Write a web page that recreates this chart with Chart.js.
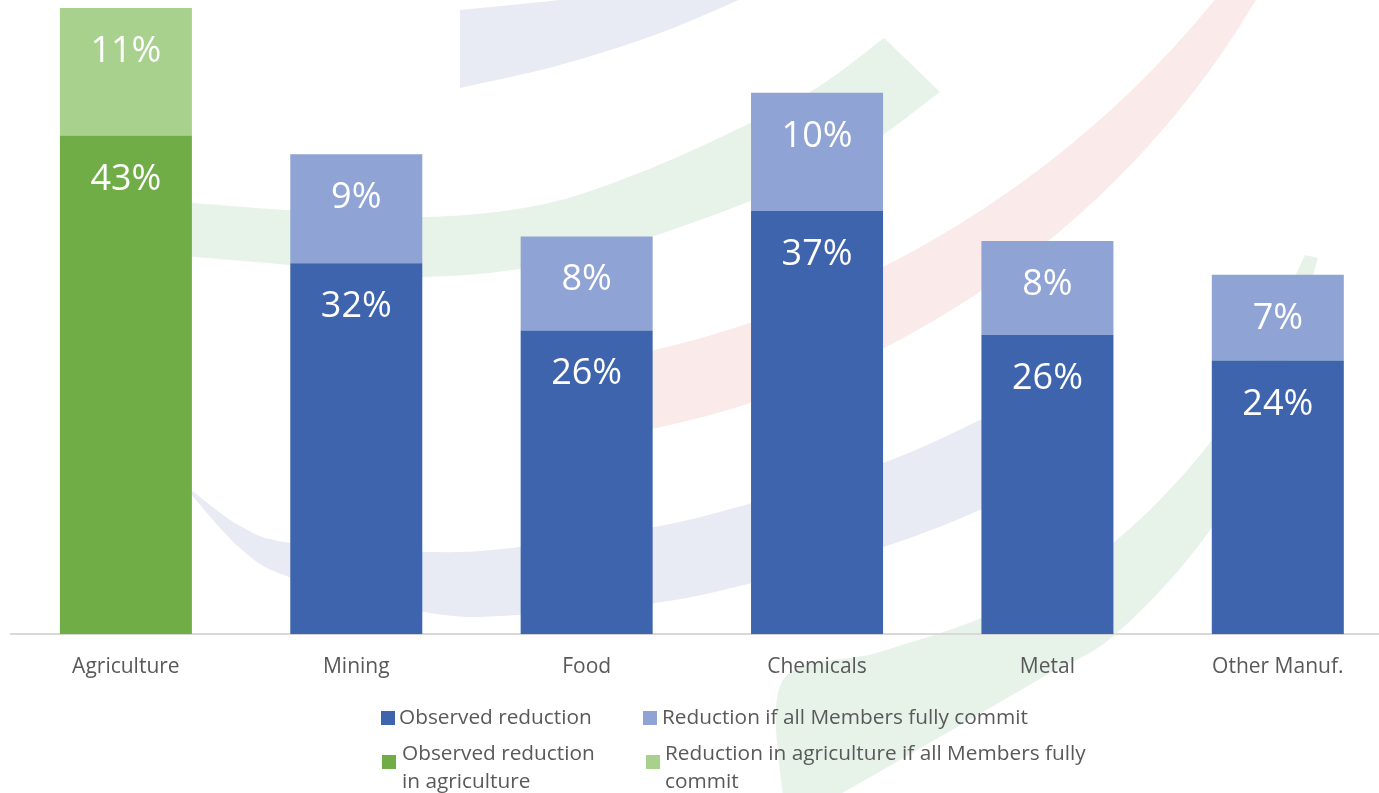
<!DOCTYPE html>
<html><head><meta charset="utf-8">
<script src="https://cdn.jsdelivr.net/npm/chart.js@4"></script>
<style>
html,body{margin:0;padding:0;background:#fff;overflow:hidden;width:1379px;height:793px;}
#wrap{position:relative;width:1379px;height:793px;overflow:hidden;}
#c{position:absolute;left:0;top:0;}
.lg{position:absolute;font-family:"Open Sans";font-size:20.8px;line-height:28px;color:#595959;white-space:nowrap;}
.sw{position:absolute;width:14px;height:14px;}
</style></head><body>
<div id="wrap"><canvas id="c" width="1400" height="793"></canvas><div id="legend"></div></div>
<script>
// ---- data ----
const categories = ["Agriculture", "Mining", "Food", "Chemicals", "Metal", "Other Manuf."];
const observedReduction = [null, 32.0, 26.2, 36.5, 25.8, 23.6];
const fullCommitReduction = [null, 9.4, 8.1, 10.2, 8.1, 7.4];
const observedAgri = [43.0, null, null, null, null, null];
const fullCommitAgri = [11.0, null, null, null, null, null];
const seriesNames = [
  "Observed reduction",
  "Reduction if all Members fully commit",
  "Observed reduction in agriculture",
  "Reduction in agriculture if all Members fully commit"
];
const legendLines = [
  ["Observed reduction"],
  ["Reduction if all Members fully commit"],
  ["Observed reduction", "in agriculture"],
  ["Reduction in agriculture if all Members fully", "commit"]
];
const seriesColors = ["#3D64AD", "#8FA3D4", "#70AD47", "#A9D18E"];
const yMax = 54;

// ---- background watermark (decorative) ----
function smooth(ctx, pts, first) {
  if (first) ctx.moveTo(pts[0][0], pts[0][1]); else ctx.lineTo(pts[0][0], pts[0][1]);
  for (let i = 0; i < pts.length - 1; i++) {
    const p0 = pts[i - 1] || pts[i], p1 = pts[i], p2 = pts[i + 1], p3 = pts[i + 2] || p2;
    ctx.bezierCurveTo(p1[0] + (p2[0] - p0[0]) / 6, p1[1] + (p2[1] - p0[1]) / 6,
                      p2[0] - (p3[0] - p1[0]) / 6, p2[1] - (p3[1] - p1[1]) / 6, p2[0], p2[1]);
  }
}
function band(ctx, color, a, b) {
  ctx.beginPath(); smooth(ctx, a, true); smooth(ctx, b, false); ctx.closePath();
  ctx.fillStyle = color; ctx.fill();
}
const rad = d => d * Math.PI / 180;
const watermark = {
  id: 'watermark',
  beforeDraw(chart) {
    const ctx = chart.ctx;
    ctx.save();
    const lav = '#E8EAF4', grn = '#E7F2E9', pnk = '#FBEAEA';
    // top lavender
    band(ctx, lav, [[460, 10], [560, 0], [620, -8], [760, -8]], [[750, -8], [745, -3], [660, 33], [560, 65], [460, 88]]);
    // upper green
    band(ctx, grn,
      [[150, 201], [192, 203], [300, 211], [425, 217], [540, 205], [639, 173], [740, 128], [818, 87], [884, 38]],
      [[940, 92], [843, 160], [700, 220], [560, 262], [420, 277], [290, 265], [195, 257], [150, 254]]);
    // pink arc
    ctx.beginPath();
    ctx.arc(421, -647, 1024, rad(35), rad(79.9), false);
    ctx.lineTo(600, 446);
    ctx.arc(470.3, -467, 914, rad(81.8), rad(28), true);
    ctx.closePath(); ctx.fillStyle = pnk; ctx.fill();
    // lower lavender bowl
    band(ctx, lav,
      [[185, 485], [240, 526], [292, 543], [430, 552], [520, 547], [655, 527], [752, 503], [883, 463], [980, 420], [1060, 378]],
      [[1060, 470], [980, 510], [883, 547], [752, 583], [655, 603], [520, 615], [430, 613], [292, 578], [240, 548], [185, 487]]);
    // lower green
    band(ctx, grn,
      [[1305, 255], [1260, 350], [1212, 440], [1113, 543], [1000, 610], [880, 652], [783, 680], [783, 800]],
      [[830, 800], [900, 760], [1038, 680], [1117, 633], [1212, 527], [1275, 400], [1318, 258]]);
    ctx.restore();
  }
};

// ---- value labels ----
const valueLabels = {
  id: 'valueLabels',
  afterDatasetsDraw(chart) {
    const ctx = chart.ctx;
    ctx.save();
    ctx.font = '36px "Open Sans"';
    ctx.fillStyle = '#FFFFFF';
    ctx.textAlign = 'center';
    ctx.textBaseline = 'alphabetic';
    chart.data.datasets.forEach((ds, i) => {
      const meta = chart.getDatasetMeta(i);
      meta.data.forEach((bar, j) => {
        const v = ds.data[j];
        if (v === null || v === undefined) return;
        ctx.fillText(Math.round(v) + '%', bar.x, bar.y + 54);
      });
    });
    ctx.restore();
  }
};

const seriesData = [observedReduction, fullCommitReduction, observedAgri, fullCommitAgri];

new Chart(document.getElementById('c'), {
  type: 'bar',
  data: {
    labels: categories,
    datasets: seriesData.map((d, i) => ({
      label: seriesNames[i],
      data: d,
      backgroundColor: seriesColors[i],
      borderWidth: 0,
      stack: 's',
      categoryPercentage: 1,
      barPercentage: 0.573
    }))
  },
  options: {
    responsive: false,
    animation: false,
    devicePixelRatio: 1,
    layout: { padding: { left: 10.7, right: 7, top: 8, bottom: 92.5 } },
    plugins: { legend: { display: false }, tooltip: { enabled: false } },
    scales: {
      x: {
        stacked: true,
        grid: { display: false, drawTicks: false },
        border: { display: true, color: '#D9D9D9', width: 2 },
        ticks: { color: '#595959', font: { family: 'Open Sans', size: 21 }, padding: 20.5 }
      },
      y: { stacked: true, display: false, min: 0, max: yMax }
    }
  },
  plugins: [watermark, valueLabels]
});

// ---- HTML legend ----
const legendPos = [
  { sx: 380.5, sy: 710.5, tx: 399, ty: 702 },
  { sx: 643, sy: 710.5, tx: 662, ty: 702 },
  { sx: 382, sy: 755, tx: 402, ty: 738 },
  { sx: 646, sy: 755, tx: 665, ty: 738 }
];
const lg = document.getElementById('legend');
legendLines.forEach((lines, i) => {
  const p = legendPos[i];
  const sw = document.createElement('div');
  sw.className = 'sw';
  sw.style.left = p.sx + 'px'; sw.style.top = p.sy + 'px';
  sw.style.background = seriesColors[i];
  lg.appendChild(sw);
  const t = document.createElement('div');
  t.className = 'lg';
  t.style.left = p.tx + 'px'; t.style.top = p.ty + 'px';
  lines.forEach((ln, k) => {
    if (k) t.appendChild(document.createElement('br'));
    t.appendChild(document.createTextNode(ln));
  });
  lg.appendChild(t);
});
</script>
</body></html>
